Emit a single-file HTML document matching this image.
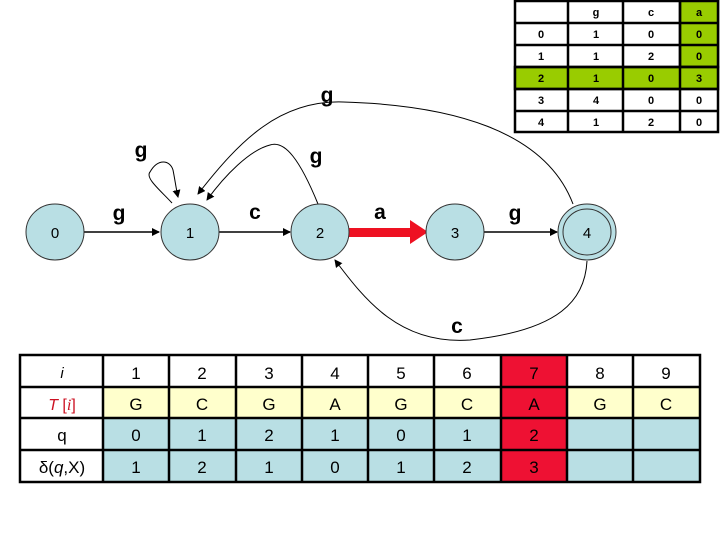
<!DOCTYPE html>
<html><head><meta charset="utf-8"><style>
html,body{margin:0;padding:0;background:#fff;width:720px;height:540px;overflow:hidden}
svg{display:block}
text{font-family:"Liberation Sans",Arial,sans-serif}
</style></head><body>
<svg width="720" height="540" viewBox="0 0 720 540" xmlns="http://www.w3.org/2000/svg">
<defs>
<marker id="ah" markerWidth="8" markerHeight="8" refX="7" refY="4" orient="auto" markerUnits="userSpaceOnUse"><path d="M0,0 L8,4 L0,8 z" fill="#000"/></marker>
</defs>
<!-- top table -->
<g stroke="#000" stroke-width="2.5">
<rect x="515" y="1" width="203" height="131" fill="#fff"/>
<rect x="680" y="1" width="38" height="66" fill="#99cc00"/>
<rect x="515" y="67" width="203" height="22" fill="#99cc00"/>
<line x1="568" y1="1" x2="568" y2="132"/><line x1="623" y1="1" x2="623" y2="132"/><line x1="680" y1="1" x2="680" y2="132"/>
<line x1="515" y1="23" x2="718" y2="23"/><line x1="515" y1="45" x2="718" y2="45"/><line x1="515" y1="67" x2="718" y2="67"/><line x1="515" y1="89" x2="718" y2="89"/><line x1="515" y1="111" x2="718" y2="111"/>
</g>
<g font-family="Liberation Serif,serif" font-size="11" font-weight="bold" text-anchor="middle">
<text x="596" y="16">g</text><text x="651" y="16">c</text><text x="699" y="16">a</text>
<text x="541" y="38">0</text><text x="596" y="38">1</text><text x="651" y="38">0</text><text x="699" y="38">0</text>
<text x="541" y="60">1</text><text x="596" y="60">1</text><text x="651" y="60">2</text><text x="699" y="60">0</text>
<text x="541" y="82">2</text><text x="596" y="82">1</text><text x="651" y="82">0</text><text x="699" y="82">3</text>
<text x="541" y="104">3</text><text x="596" y="104">4</text><text x="651" y="104">0</text><text x="699" y="104">0</text>
<text x="541" y="126">4</text><text x="596" y="126">1</text><text x="651" y="126">2</text><text x="699" y="126">0</text>
</g>
<!-- curves -->
<g fill="none" stroke="#000" stroke-width="1">
<path d="M573,204 C545,130 450,105 343,102 C280,100 240,140 198,194" marker-end="url(#ah)"/>
<path d="M318,204 C300,160 285,140 270,145 C250,150 225,175 207,200" marker-end="url(#ah)"/>
<path d="M172,203 C160,190 145,178 150,172 C158,158 170,160 173,170 C175,180 176,188 178,197" marker-end="url(#ah)"/>
<path d="M587,261 C585,300 560,330 470,340 C400,345 365,300 335,260" marker-end="url(#ah)"/>
</g>
<g stroke="#000" stroke-width="1.5">
<line x1="84" y1="232" x2="159" y2="232" marker-end="url(#ah)"/>
<line x1="219" y1="232" x2="290" y2="232" marker-end="url(#ah)"/>
<line x1="484" y1="232" x2="557" y2="232" marker-end="url(#ah)"/>
</g>
<rect x="349" y="228" width="62" height="9" fill="#ee1122"/>
<path d="M410,220 L428,232 L410,244 z" fill="#ee1122"/>
<!-- nodes -->
<g fill="#b9dfe4" stroke="#333" stroke-width="1">
<ellipse cx="55" cy="232" rx="29" ry="28"/>
<ellipse cx="190" cy="232" rx="29" ry="28"/>
<ellipse cx="320" cy="232" rx="29" ry="28"/>
<ellipse cx="455" cy="232" rx="29" ry="28"/>
<ellipse cx="587" cy="232" rx="29" ry="28"/>
<ellipse cx="587" cy="232" rx="24" ry="23"/>
</g>
<g font-size="15" text-anchor="middle">
<text x="55" y="238">0</text><text x="190" y="238">1</text><text x="320" y="238">2</text><text x="455" y="238">3</text><text x="587" y="238">4</text>
</g>
<g font-size="21" font-weight="bold" text-anchor="middle">
<text x="119" y="220">g</text><text x="255" y="219">c</text><text x="380" y="219">a</text><text x="515" y="220">g</text>
<text x="141" y="157">g</text><text x="316" y="163">g</text><text x="327" y="102">g</text><text x="457" y="333">c</text>
</g>
<!-- bottom table -->
<g stroke="none">
<rect x="103" y="387" width="597" height="31" fill="#ffffcc"/>
<rect x="103" y="418" width="597" height="64" fill="#b9dfe4"/>
<rect x="501" y="355" width="66" height="127" fill="#ee1133"/>
</g>
<g stroke="#000" stroke-width="2.5" fill="none">
<rect x="20" y="355" width="680" height="127"/>
<line x1="20" y1="387" x2="700" y2="387"/><line x1="20" y1="418" x2="700" y2="418"/><line x1="20" y1="450" x2="700" y2="450"/>
<line x1="103" y1="355" x2="103" y2="482"/><line x1="169" y1="355" x2="169" y2="482"/><line x1="236" y1="355" x2="236" y2="482"/><line x1="302" y1="355" x2="302" y2="482"/><line x1="368" y1="355" x2="368" y2="482"/><line x1="434" y1="355" x2="434" y2="482"/><line x1="501" y1="355" x2="501" y2="482"/><line x1="567" y1="355" x2="567" y2="482"/><line x1="633" y1="355" x2="633" y2="482"/>
</g>
<g font-size="17" text-anchor="middle">
<text x="62" y="378" font-family="Liberation Serif,serif" font-style="italic" font-size="15">i</text>
<text x="136" y="379">1</text><text x="202" y="379">2</text><text x="269" y="379">3</text><text x="335" y="379">4</text><text x="401" y="379">5</text><text x="467" y="379">6</text><text x="534" y="379">7</text><text x="600" y="379">8</text><text x="666" y="379">9</text>
<text x="62" y="410" fill="#cc1122" font-size="16"><tspan font-style="italic">T</tspan> [<tspan font-family="Liberation Serif,serif" font-style="italic">i</tspan>]</text>
<text x="136" y="410">G</text><text x="202" y="410">C</text><text x="269" y="410">G</text><text x="335" y="410">A</text><text x="401" y="410">G</text><text x="467" y="410">C</text><text x="534" y="410">A</text><text x="600" y="410">G</text><text x="666" y="410">C</text>
<text x="62" y="441">q</text>
<text x="136" y="441">0</text><text x="202" y="441">1</text><text x="269" y="441">2</text><text x="335" y="441">1</text><text x="401" y="441">0</text><text x="467" y="441">1</text><text x="534" y="441">2</text>
<text x="62" y="473">δ(<tspan font-style="italic">q</tspan>,X)</text>
<text x="136" y="473">1</text><text x="202" y="473">2</text><text x="269" y="473">1</text><text x="335" y="473">0</text><text x="401" y="473">1</text><text x="467" y="473">2</text><text x="534" y="473">3</text>
</g>
</svg>
</body></html>
